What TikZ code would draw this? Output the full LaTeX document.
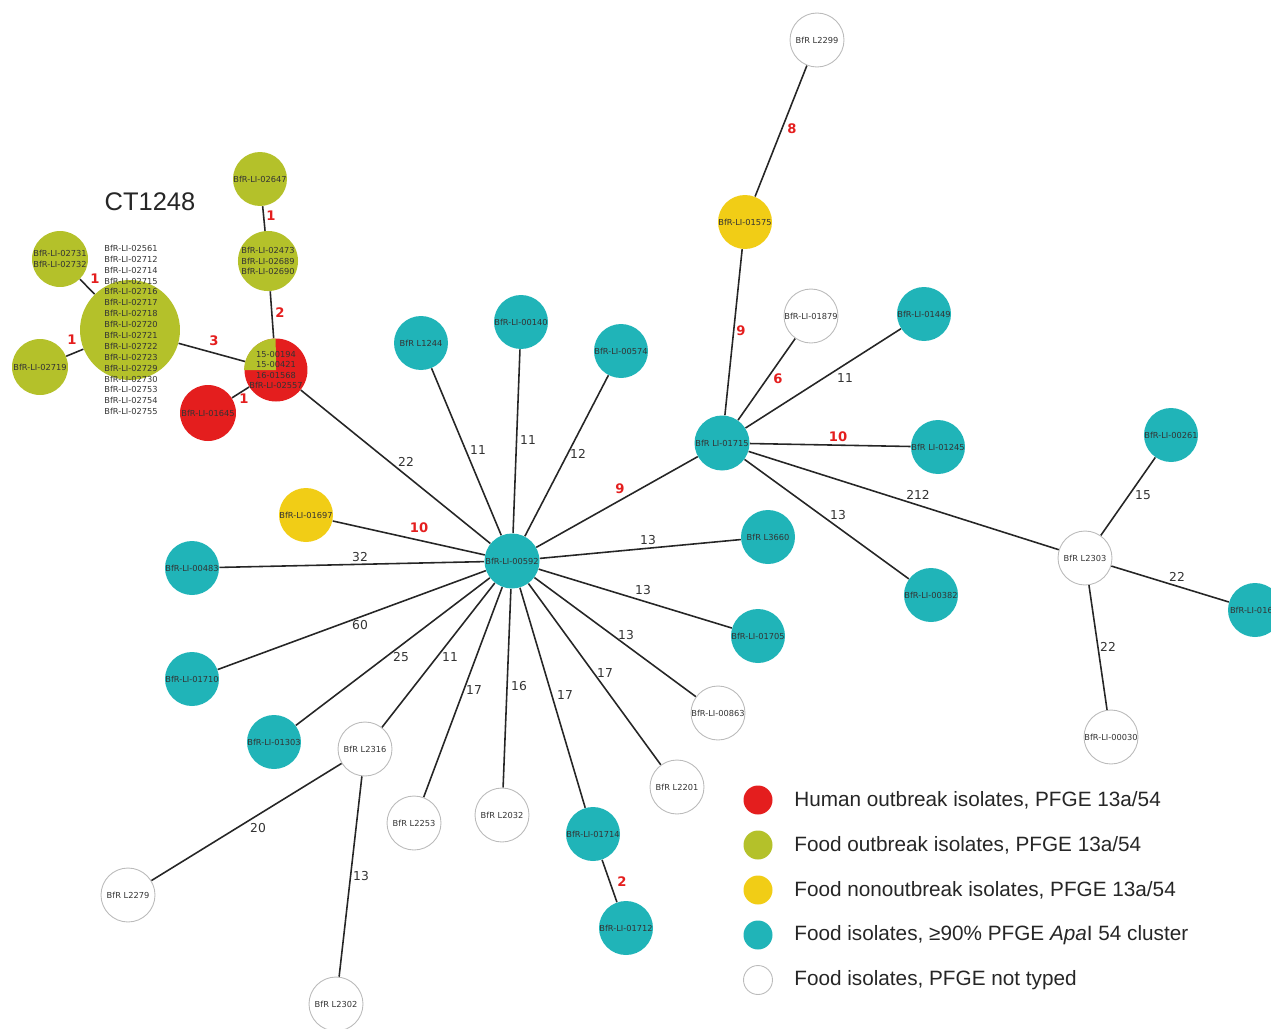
\documentclass[tikz,border=0pt]{standalone}
\usepackage{fontspec}
\setmainfont{DejaVu Sans}
\newfontfamily\legfont{Liberation Sans}
\usetikzlibrary{backgrounds}
\definecolor{cred}{HTML}{E41E1E}
\definecolor{cgreen}{HTML}{B4C12A}
\definecolor{cyellow}{HTML}{F1CD16}
\definecolor{cteal}{HTML}{20B4B8}
\definecolor{cgreyline}{HTML}{BBBBBB}
\begin{document}
\begin{tikzpicture}[x=0.02cm,y=-0.02cm,
  iso/.style={circle, minimum size=1.08cm, inner sep=0pt, align=center,
    font=\fontsize{4.7}{5.5}\selectfont, text=black!80},
  rednode/.style={iso, fill=cred},
  greennode/.style={iso, fill=cgreen},
  yellownode/.style={iso, fill=cyellow},
  tealnode/.style={iso, fill=cteal},
  whitenode/.style={iso, fill=white, draw=cgreyline, line width=0.5pt},
  link/.style={draw=black!85, line width=0.9pt},
  num/.style={font=\fontsize{7}{8}\selectfont, text=black!80},
  rnum/.style={font=\bfseries\fontsize{7.5}{8}\selectfont, text=cred},
  legdot/.style={circle, minimum size=0.58cm, inner sep=0pt},
  legtext/.style={anchor=west, inner sep=0pt, font=\legfont\fontsize{11.8}{13}\selectfont, text=black!85}
]
\useasboundingbox (0,0) rectangle (1271,1028);
\clip (0,0) rectangle (1271,1028);

% ---------- CT1248 cluster ----------
\node[font=\legfont\fontsize{14.5}{16}\selectfont, text=black!85] (title) at (150,202) {CT1248};
\node[greennode, minimum size=2cm] (big) at (130,330) {};
\node[align=left, inner sep=0pt, font=\fontsize{4.7}{6.2}\selectfont, text=black!80] (biglist) at (131,330)
  {BfR-LI-02561\\BfR-LI-02712\\BfR-LI-02714\\BfR-LI-02715\\BfR-LI-02716\\BfR-LI-02717\\BfR-LI-02718\\BfR-LI-02720\\BfR-LI-02721\\BfR-LI-02722\\BfR-LI-02723\\BfR-LI-02729\\BfR-LI-02730\\BfR-LI-02753\\BfR-LI-02754\\BfR-LI-02755};
\node[greennode, minimum size=1.12cm, font=\fontsize{4.7}{6.2}\selectfont] (n2731) at (60,259) {BfR-LI-02731\\BfR-LI-02732};
\node[greennode, minimum size=1.12cm] (n2719) at (40,367) {BfR-LI-02719};
\node[greennode] (n2647) at (260,179) {BfR-LI-02647};
\node[greennode, minimum size=1.18cm, font=\fontsize{4.7}{6.2}\selectfont] (n2473) at (268,261) {BfR-LI-02473\\BfR-LI-02689\\BfR-LI-02690};
\node[rednode, minimum size=1.26cm] (pie) at (276,370) {};
\fill[cgreen] (pie.center) -- (pie.west) arc (180:90:0.63cm) -- cycle;
\node[align=center, inner sep=0pt, font=\fontsize{4.7}{5.8}\selectfont, text=black!80] (pietext) at (276,370)
  {15-00194\\15-00421\\16-01568\\BfR-LI-02557};
\node[rednode, minimum size=1.12cm] (n1645) at (208,413) {BfR-LI-01645};

% ---------- central star ----------
\node[tealnode, minimum size=1.1cm] (c592) at (512,561) {BfR-LI-00592};
\node[tealnode] (n1244) at (421,343) {BfR L1244};
\node[tealnode] (n140) at (521,322) {BfR-LI-00140};
\node[tealnode] (n574) at (621,351) {BfR-LI-00574};
\node[yellownode] (n1697) at (306,515) {BfR-LI-01697};
\node[tealnode] (n483) at (192,568) {BfR-LI-00483};
\node[tealnode] (n1710) at (192,679) {BfR-LI-01710};
\node[tealnode] (n1303) at (274,742) {BfR-LI-01303};
\node[whitenode] (n2316) at (365,749) {BfR L2316};
\node[whitenode] (n2253) at (414,823) {BfR L2253};
\node[whitenode] (n2032) at (502,815) {BfR L2032};
\node[tealnode] (n1714) at (593,834) {BfR-LI-01714};
\node[tealnode] (n1712) at (626,928) {BfR-LI-01712};
\node[whitenode] (n2201) at (677,787) {BfR L2201};
\node[whitenode] (n863) at (718,713) {BfR-LI-00863};
\node[tealnode] (n1705) at (758,636) {BfR-LI-01705};
\node[tealnode] (n3660) at (768,537) {BfR L3660};
\node[whitenode] (n2279) at (128,895) {BfR L2279};
\node[whitenode] (n2302) at (336,1004) {BfR L2302};

% ---------- right part ----------
\node[tealnode, minimum size=1.1cm] (n1715) at (722,443) {BfR LI-01715};
\node[yellownode] (n1575) at (745,222) {BfR-LI-01575};
\node[whitenode] (n2299) at (817,40) {BfR L2299};
\node[whitenode] (n1879) at (811,316) {BfR-LI-01879};
\node[tealnode] (n1449) at (924,314) {BfR-LI-01449};
\node[tealnode] (n1245) at (938,447) {BfR LI-01245};
\node[tealnode] (n382) at (931,595) {BfR-LI-00382};
\node[whitenode] (n2303) at (1085,558) {BfR L2303};
\node[tealnode] (n261) at (1171,435) {BfR-LI-00261};
\node[tealnode, text width=1.0cm, align=left] (n016) at (1255,610) {BfR-LI-016};
\node[whitenode] (n030) at (1111,737) {BfR-LI-00030};

% ---------- connectors ----------
\begin{pgfonlayer}{background}
\draw[link] (big) -- (n2731);
\draw[link] (big) -- (n2719);
\draw[link] (big) -- (pie);
\draw[link] (n2647) -- (n2473);
\draw[link] (n2473) -- (pie);
\draw[link] (pie) -- (n1645);
\draw[link] (pie) -- (c592);
\draw[link] (n1244) -- (c592);
\draw[link] (n140) -- (c592);
\draw[link] (n574) -- (c592);
\draw[link] (n1715) -- (c592);
\draw[link] (n1697) -- (c592);
\draw[link] (n483) -- (c592);
\draw[link] (n3660) -- (c592);
\draw[link] (n1705) -- (c592);
\draw[link] (n863) -- (c592);
\draw[link] (n1710) -- (c592);
\draw[link] (n1303) -- (c592);
\draw[link] (n2316) -- (c592);
\draw[link] (n2253) -- (c592);
\draw[link] (n2032) -- (c592);
\draw[link] (n1714) -- (c592);
\draw[link] (n2201) -- (c592);
\draw[link] (n1714) -- (n1712);
\draw[link] (n2316) -- (n2279);
\draw[link] (n2316) -- (n2302);
\draw[link] (n1715) -- (n1575);
\draw[link] (n1575) -- (n2299);
\draw[link] (n1715) -- (n1879);
\draw[link] (n1715) -- (n1449);
\draw[link] (n1715) -- (n1245);
\draw[link] (n1715) -- (n382);
\draw[link] (n1715) -- (n2303);
\draw[link] (n2303) -- (n261);
\draw[link] (n2303) -- (n016);
\draw[link] (n2303) -- (n030);
\end{pgfonlayer}

% ---------- connector labels ----------
\node[rnum] (l1) at (95,279) {1};
\node[rnum] (l2) at (72,340) {1};
\node[rnum] (l3) at (214,341) {3};
\node[rnum] (l4) at (271,216) {1};
\node[rnum] (l5) at (280,313) {2};
\node[rnum] (l6) at (244,399) {1};
\node[num] (l7) at (406,462) {22};
\node[num] (l8) at (478,450) {11};
\node[num] (l9) at (528,440) {11};
\node[num] (l10) at (578,454) {12};
\node[rnum] (l11) at (620,489) {9};
\node[rnum] (l12) at (419,528) {10};
\node[num] (l13) at (360,557) {32};
\node[num] (l14) at (648,540) {13};
\node[num] (l15) at (643,590) {13};
\node[num] (l16) at (626,635) {13};
\node[num] (l17) at (360,625) {60};
\node[num] (l18) at (401,657) {25};
\node[num] (l19) at (450,657) {11};
\node[num] (l20) at (474,690) {17};
\node[num] (l21) at (519,686) {16};
\node[num] (l22) at (565,695) {17};
\node[num] (l23) at (605,673) {17};
\node[rnum] (l24) at (622,882) {2};
\node[num] (l25) at (258,828) {20};
\node[num] (l26) at (361,876) {13};
\node[rnum] (l27) at (741,331) {9};
\node[rnum] (l28) at (792,129) {8};
\node[rnum] (l29) at (778,379) {6};
\node[num] (l30) at (845,378) {11};
\node[rnum] (l31) at (838,437) {10};
\node[num] (l32) at (838,515) {13};
\node[num] (l33) at (918,495) {212};
\node[num] (l34) at (1143,495) {15};
\node[num] (l35) at (1177,577) {22};
\node[num] (l36) at (1108,647) {22};

% ---------- legend ----------
\node[legdot, fill=cred] (k1) at (758,800) {};
\node[legdot, fill=cgreen] (k2) at (758,845) {};
\node[legdot, fill=cyellow] (k3) at (758,890) {};
\node[legdot, fill=cteal] (k4) at (758,935) {};
\node[legdot, fill=white, draw=cgreyline, line width=0.5pt] (k5) at (758,980) {};
\node[legtext] (t1) at (794,800) {Human outbreak isolates, PFGE 13a/54};
\node[legtext] (t2) at (794,845) {Food outbreak isolates, PFGE 13a/54};
\node[legtext] (t3) at (794,890) {Food nonoutbreak isolates, PFGE 13a/54};
\node[legtext] (t4) at (794,935) {Food isolates, ≥90\% PFGE \textit{Apa}I 54 cluster};
\node[legtext] (t5) at (794,980) {Food isolates, PFGE not typed};
\end{tikzpicture}
\end{document}
